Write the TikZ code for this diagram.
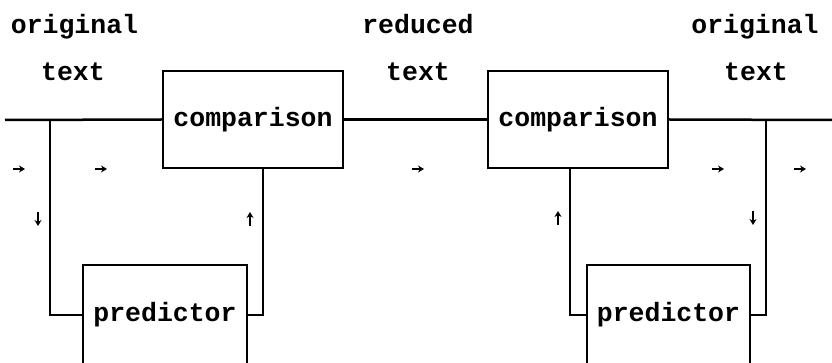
\documentclass[tikz,border=0pt]{standalone}
\usepackage{fontspec}
\usetikzlibrary{arrows.meta}
\setmainfont{Liberation Mono}
\begin{document}
\begin{tikzpicture}[x=1pt,y=-1pt,
  wire/.style={line width=2.5pt},
  block/.style={draw,line width=2.2pt,inner sep=0pt,font=\fontsize{26.5}{30}\selectfont\bfseries},
  lbl/.style={anchor=base,inner sep=0pt,font=\fontsize{26.5}{30}\selectfont\bfseries},
  flow/.style={line width=1.6pt,-{Stealth[length=6pt,width=7pt]}}]
\clip (0,0) rectangle (832,363);
\fill[white] (0,0) rectangle (832,363);

% comparison and predictor blocks
\node[block,minimum width=180pt,minimum height=97pt] (c1) at (253,119.5) {comparison};
\node[block,minimum width=180pt,minimum height=97pt] (c2) at (578,119.5) {comparison};
\node[block,minimum width=164pt,minimum height=100pt] (p1) at (165,315) {predictor};
\node[block,minimum width=163pt,minimum height=100pt] (p2) at (668.5,315) {predictor};

% signal path
\coordinate (in) at (5,120);
\coordinate (out) at (832,120);
\coordinate (b1) at (50,120);
\coordinate (b2) at (766,120);
\draw[wire] (in) -- (c1.west);
\draw[wire] (c1.east) -- (c2.west);
\draw[wire] (c2.east) -- (out);

% feedback loops
\draw[wire] (b1) |- (p1.west);
\draw[wire] (p1.east) -| ([xshift=10pt]c1.south);
\draw[wire] ([xshift=-8pt]c2.south) |- (p2.west);
\draw[wire] (p2.east) -| (b2);

% labels
\node[lbl] (t1a) at (74.5,34) {original};
\node[lbl] (t1b) at (73,81) {text};
\node[lbl] (t2a) at (418,34) {reduced};
\node[lbl] (t2b) at (418,81) {text};
\node[lbl] (t3a) at (755,34) {original};
\node[lbl] (t3b) at (756,81) {text};

% direction marks
\foreach \x in {19,101,418,718,800}
  \draw[flow] (\x-6,169) -- (\x+6,169);
\draw[flow] (38,212) -- (38,226);
\draw[flow] (250,226) -- (250,212);
\draw[flow] (558,225) -- (558,211);
\draw[flow] (753,211) -- (753,225);
\end{tikzpicture}
\end{document}
